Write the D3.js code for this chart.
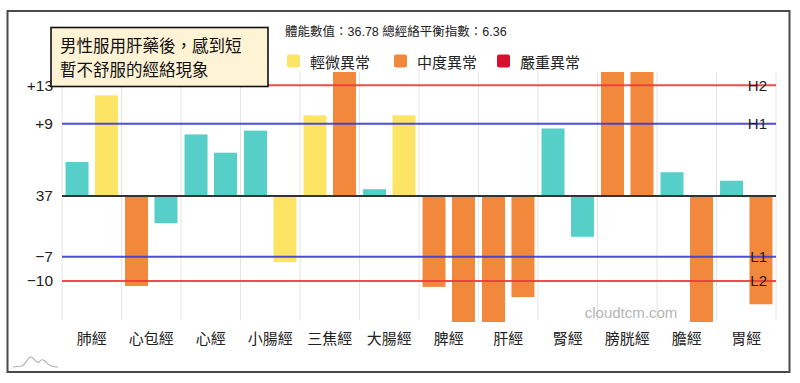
<!DOCTYPE html>
<html><head><meta charset="utf-8">
<script src="https://cdn.jsdelivr.net/npm/d3@7"></script>
<style>
html,body{margin:0;padding:0;background:#fff;}
svg{display:block;font-family:"Liberation Sans",Arial,"Noto Sans CJK TC",sans-serif;}
</style></head><body>
<svg id="c" width="800" height="383"></svg>
<script>
const categories = ["肺經","心包經","心經","小腸經","三焦經","大腸經","脾經","肝經","腎經","膀胱經","膽經","胃經"];
const leftValues  = [4.0, -10.6, 7.25, 7.7, 9.5, 0.8, -10.7, -16, 7.95, 16, 2.8, 1.8];
const rightValues = [11.85, -3.2, 5.1, -7.8, 16, 9.5, -16, -11.9, -4.8, 16, -16, -12.75];
const thresholdNames  = ["H2","H1","L1","L2"];
const thresholdValues = [13.05, 8.5, -7.15, -10];
const tickValues = [13.05, 8.5, 0, -7.15, -10];
const tickLabels = ["+13","+9","37","\u22127","\u221210"];
const legendLabels = ["輕微異常","中度異常","嚴重異常"];
const titleLines = ["男性服用肝藥後，感到短","暫不舒服的經絡現象"];
const headerText = "體能數值：36.78 總經絡平衡指數：6.36";
const watermark = "cloudtcm.com";

const colors = {normal:"#55CFC7", mild:"#FDE464", moderate:"#F2883B", severe:"#D9102E"};
const legendColors = [colors.mild, colors.moderate, colors.severe];
const lineColors = {H2:"#EE3A3A", H1:"#3B3BD6", L1:"#3B3BD6", L2:"#EE3A3A"};

const svg = d3.select("#c");
const plot = {left:62, right:776, top:72, bottom:320};

// frame
svg.append("rect").attr("x",7.5).attr("y",11).attr("width",782).attr("height",361)
  .attr("fill","#fff").attr("stroke","#4a4a4a").attr("stroke-width",2);

const x0 = d3.scaleBand().domain(categories).range([plot.left, plot.right]).paddingInner(0).paddingOuter(0);
const x1 = d3.scaleBand().domain([0,1]).range([0, x0.bandwidth()]).paddingInner(0.22).paddingOuter(0.12);
const y = d3.scaleLinear().domain([-14.6, 14.6]).range([plot.bottom, plot.top]);

function level(v){
  if (v >= thresholdValues[0] || v <= thresholdValues[3]) return "moderate";
  if (v >= thresholdValues[1] || v <= thresholdValues[2]) return "mild";
  return "normal";
}

// vertical gridlines
const gridXs = categories.map(c => x0(c)).concat([plot.right]);
svg.append("g").selectAll("line").data(gridXs).join("line")
  .attr("x1",d=>d).attr("x2",d=>d).attr("y1",plot.top).attr("y2",plot.bottom)
  .attr("stroke","#e4e4e4").attr("stroke-width",1);

// clip
svg.append("clipPath").attr("id","clip").append("rect")
  .attr("x",plot.left).attr("y",plot.top).attr("width",plot.right-plot.left).attr("height",plot.bottom+2-plot.top);

const barData = [];
categories.forEach((c,i)=>{
  barData.push({c, k:0, v:leftValues[i]});
  barData.push({c, k:1, v:rightValues[i]});
});
svg.append("g").attr("clip-path","url(#clip)").selectAll("rect").data(barData).join("rect")
  .attr("x",d=>x0(d.c)+x1(d.k))
  .attr("width",x1.bandwidth())
  .attr("y",d=>Math.min(y(d.v),y(0)))
  .attr("height",d=>Math.abs(y(d.v)-y(0)))
  .attr("fill",d=>colors[level(d.v)]);

// threshold lines
thresholdNames.forEach((n,i)=>{
  const yy = y(thresholdValues[i]);
  svg.append("line").attr("x1",plot.left).attr("x2",plot.right).attr("y1",yy).attr("y2",yy)
    .attr("stroke",lineColors[n]).attr("stroke-width",2).attr("opacity",0.9);
  svg.append("text").attr("x",767).attr("y",yy).attr("text-anchor","end")
    .attr("dominant-baseline","central").attr("font-size",15).attr("fill","#222").text(n);
});
// baseline
svg.append("line").attr("x1",plot.left).attr("x2",plot.right).attr("y1",y(0)).attr("y2",y(0))
  .attr("stroke","#333").attr("stroke-width",2);

// y axis
const yAxis = d3.axisLeft(y).tickValues(tickValues).tickFormat((d,i)=>tickLabels[i]).tickSize(0).tickPadding(9);
const ya = svg.append("g").attr("transform",`translate(${plot.left},0)`).call(yAxis);
ya.select(".domain").remove();
ya.selectAll("text").attr("font-size",15.5).attr("fill","#222")
  .attr("font-family","'Liberation Sans',Arial,sans-serif");

// x axis labels
const xAxis = d3.axisBottom(x0).tickSize(0).tickPadding(13);
const xa = svg.append("g").attr("transform",`translate(0,${plot.bottom})`).call(xAxis);
xa.select(".domain").remove();
xa.selectAll("text").attr("font-size",15).attr("fill","#222")
  .attr("font-family","'Noto Sans CJK TC',sans-serif");

// watermark
svg.append("text").attr("x",631).attr("y",312).attr("text-anchor","middle").attr("dominant-baseline","central")
  .attr("font-size",15).attr("fill","#b5b5b5").text(watermark);

// logo
svg.append("path").attr("d","M13,367 L22,366 C26,364 28,357 31,357 C34,357 36,364 39,362 C41,359 43,359 46,362 C49,366 52,367 58,367")
  .attr("fill","none").attr("stroke","#b0b0b0").attr("stroke-width",1.2);

// header
svg.append("text").attr("x",285).attr("y",32).attr("dominant-baseline","central")
  .attr("font-size",12.5).attr("fill","#222").text(headerText);

// legend
const legX = [287, 394, 497];
const lg = svg.append("g").selectAll("g").data(legendLabels).join("g")
  .attr("transform",(d,i)=>`translate(${legX[i]},0)`);
lg.append("rect").attr("x",0).attr("y",54.5).attr("width",13).attr("height",13).attr("rx",2)
  .attr("fill",(d,i)=>legendColors[i]);
lg.append("text").attr("x",23).attr("y",61.5).attr("dominant-baseline","central")
  .attr("font-size",15).attr("fill","#222").attr("font-family","'Noto Sans CJK TC',sans-serif").text(d=>d);

// title box
svg.append("rect").attr("x",51).attr("y",27.5).attr("width",217).attr("height",59)
  .attr("fill","#FFF3D6").attr("stroke","#111").attr("stroke-width",1.6);
svg.append("g").selectAll("text").data(titleLines).join("text")
  .attr("x",60).attr("y",(d,i)=>45+i*24).attr("dominant-baseline","central")
  .attr("font-size",16.5).attr("fill","#111").attr("font-family","'Noto Sans CJK TC',sans-serif").text(d=>d);
</script>
</body></html>
